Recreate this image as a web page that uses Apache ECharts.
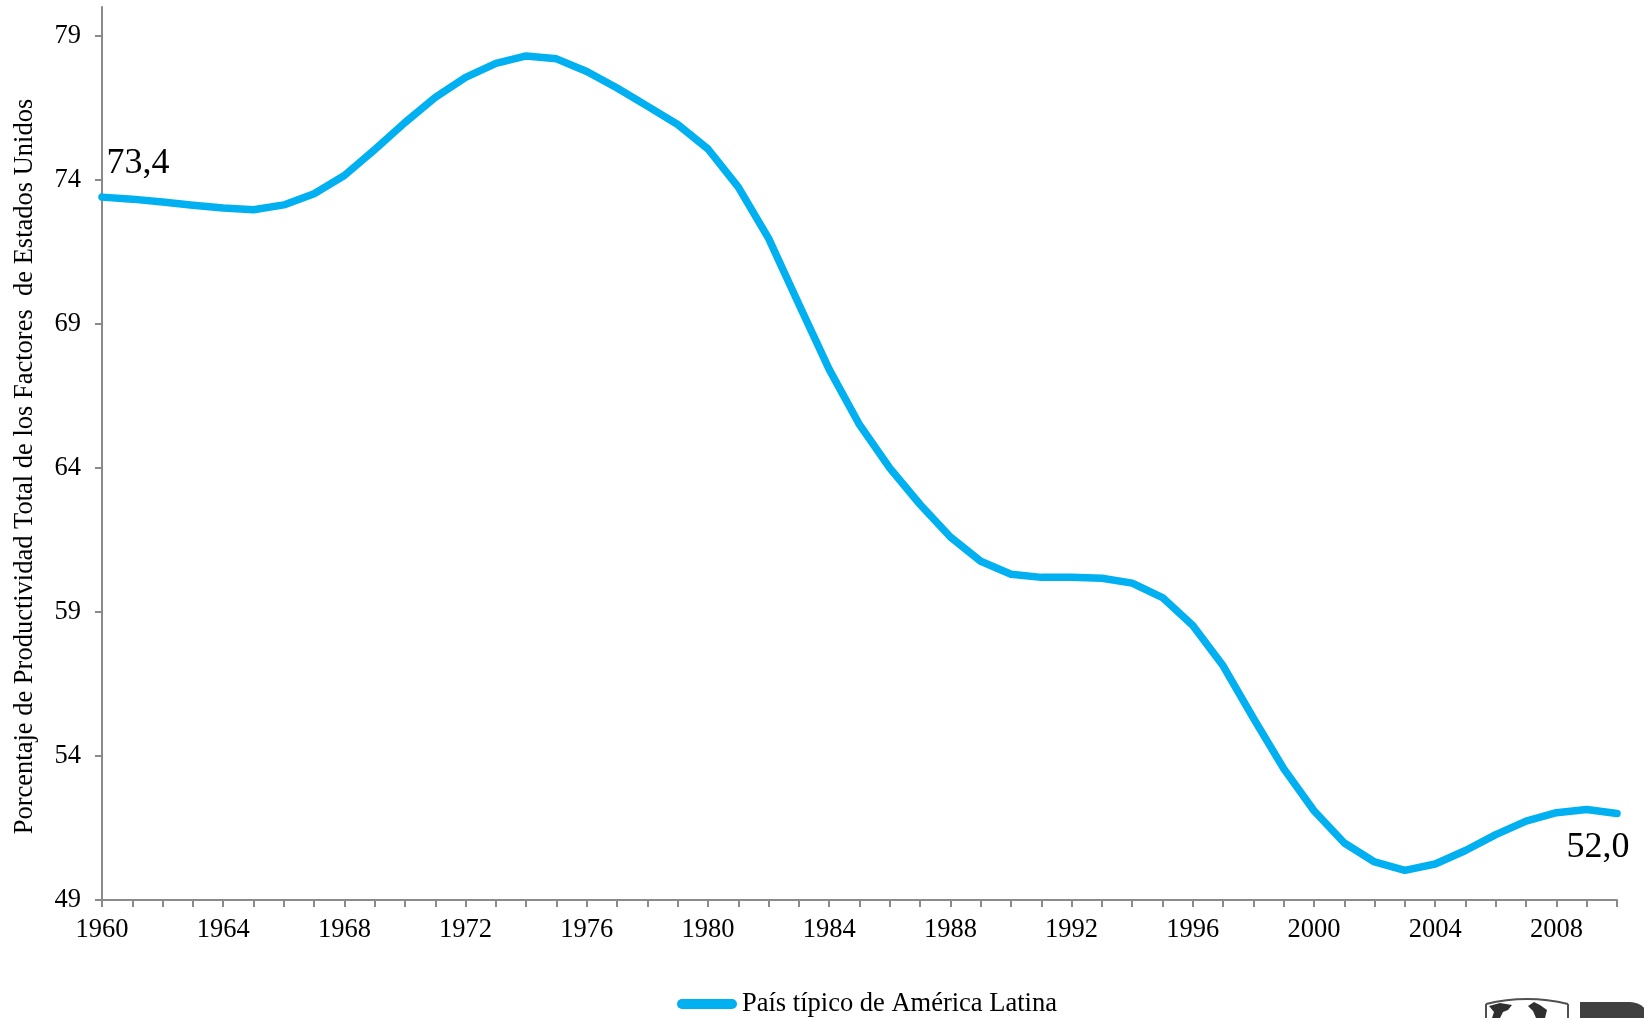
<!DOCTYPE html>
<html>
<head>
<meta charset="utf-8">
<script src="https://cdn.jsdelivr.net/npm/echarts@6/dist/echarts.min.js"></script>
<style>
html,body{margin:0;padding:0;background:#fff;}
#chart{width:1644px;height:1018px;}
</style>
</head>
<body>
<div id="chart"></div>
<script>
var years = [];
for (var y = 1960; y <= 2010; y++) { years.push(String(y)); }

var seriesName = 'País típico de América Latina';
var values = [
  73.40, 73.33, 73.23, 73.12, 73.02, 72.96, 73.13, 73.52, 74.15, 75.05,
  75.99, 76.86, 77.56, 78.04, 78.30, 78.20, 77.76, 77.19, 76.56, 75.92,
  75.07, 73.75, 71.97, 69.68, 67.42, 65.50, 63.99, 62.73, 61.60, 60.76,
  60.31, 60.20, 60.20, 60.17, 60.00, 59.50, 58.53, 57.13, 55.31, 53.56,
  52.10, 50.98, 50.32, 50.03, 50.25, 50.72, 51.27, 51.74, 52.03, 52.14,
  52.00
];
var yTicks = [49, 54, 59, 64, 69, 74, 79];
var yAxisName = 'Porcentaje de Productividad Total de los Factores  de Estados Unidos';

var FONT = '"Liberation Serif", "Times New Roman", serif';
var AXIS_COLOR = '#8a8a8a';
var LINE_COLOR = '#00B0F0';
var FS = 26.5;

function fmt(v) { return v.toFixed(1).replace('.', ','); }

var data = values.map(function (v, i) {
  var item = { value: v };
  if (i === 0) {
    item.label = {
      show: true, position: [5, -33], align: 'left', verticalAlign: 'middle',
      formatter: function (p) { return fmt(p.value); },
      fontFamily: FONT, fontSize: 36, color: '#000'
    };
  } else if (i === values.length - 1) {
    item.label = {
      show: true, position: [13, 34], align: 'right', verticalAlign: 'middle',
      formatter: function (p) { return fmt(p.value); },
      fontFamily: FONT, fontSize: 36, color: '#000'
    };
  }
  return item;
});

var chart = echarts.init(document.getElementById('chart'), null, { renderer: 'canvas' });
chart.setOption({
  animation: false,
  backgroundColor: '#ffffff',
  grid: { left: 102, right: 27, top: 7, bottom: 118, containLabel: false },
  legend: {
    left: 672, top: 985,
    data: [{ name: seriesName, itemStyle: { color: LINE_COLOR, borderWidth: 0 } }],
    icon: 'path://M5,0 L55,0 A5,5 0 0 1 55,10 L5,10 A5,5 0 0 1 5,0 Z',
    itemWidth: 60, itemHeight: 10,
    textStyle: { fontFamily: FONT, fontSize: FS, color: '#000', lineHeight: 28 },
    selectedMode: false
  },
  xAxis: {
    type: 'category',
    data: years,
    boundaryGap: false,
    axisLine: { lineStyle: { color: AXIS_COLOR, width: 2 } },
    axisTick: { show: true, interval: 0, length: 7, lineStyle: { color: AXIS_COLOR, width: 2 } },
    axisLabel: { interval: 3, margin: 17, fontFamily: FONT, fontSize: FS, color: '#000' },
    splitLine: { show: false }
  },
  yAxis: {
    type: 'value',
    min: 49, max: 80,
    name: yAxisName,
    nameLocation: 'middle',
    nameGap: 63,
    nameRotate: 90,
    nameTextStyle: { fontFamily: FONT, fontSize: FS, color: '#000', padding: [0, 26, 0, 0] },
    axisLine: { show: true, lineStyle: { color: AXIS_COLOR, width: 2 } },
    axisTick: { show: true, length: 7, customValues: yTicks, lineStyle: { color: AXIS_COLOR, width: 2 } },
    axisLabel: { customValues: yTicks, margin: 21, fontFamily: FONT, fontSize: FS, color: '#000' },
    splitLine: { show: false }
  },
  series: [{
    name: seriesName,
    type: 'line',
    data: data,
    silent: true,
    symbol: 'circle',
    symbolSize: 1,
    showSymbol: true,
    showAllSymbol: true,
    itemStyle: { color: 'rgba(0,0,0,0)' },
    lineStyle: { color: LINE_COLOR, width: 7.5, cap: 'round', join: 'round' },
    emphasis: { disabled: true },
    z: 3
  }],
  graphic: [
    {
      type: 'polyline', silent: true,
      shape: { points: [[1486,1020],[1486,1004]] },
      style: { fill: 'none', stroke: '#505050', lineWidth: 2 }
    },
    {
      type: 'polyline', silent: true,
      shape: { points: [[1568,1020],[1568,1004]] },
      style: { fill: 'none', stroke: '#505050', lineWidth: 2 }
    },
    {
      type: 'bezierCurve', silent: true,
      shape: { x1: 1486, y1: 1004, x2: 1568, y2: 1004, cpx1: 1527, cpy1: 994 },
      style: { fill: 'none', stroke: '#505050', lineWidth: 2 }
    },
    {
      type: 'polygon', silent: true,
      shape: { points: [[1489,1006],[1500,1003],[1512,1005],[1508,1010],[1503,1012],[1500,1018],[1492,1018],[1494,1012]] },
      style: { fill: '#2f2f2f' }
    },
    {
      type: 'polygon', silent: true,
      shape: { points: [[1528,1006],[1534,1002],[1540,1005],[1547,1010],[1545,1018],[1536,1018],[1533,1011]] },
      style: { fill: '#2f2f2f' }
    },
    {
      type: 'rect', silent: true,
      shape: { x: 1580, y: 1002, width: 70, height: 20, r: [0, 22, 0, 0] },
      style: { fill: '#404040' }
    }
  ]
});
</script>
</body>
</html>
